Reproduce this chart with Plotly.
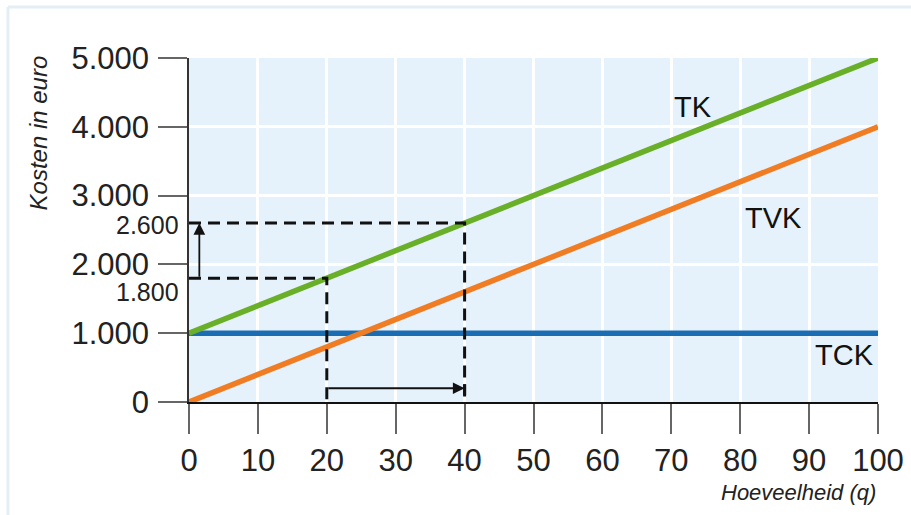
import plotly.graph_objects as go

# ---- data ----
q = [0, 100]
tck = [1000, 1000]
tvk = [0, 4000]
tk = [1000, 5000]
q_marks = [20, 40]
tk_marks = [1800, 2600]
x_ticks = list(range(0, 101, 10))
y_ticks = [0, 1000, 2000, 3000, 4000, 5000]
y_ticktext = ["0", "1.000", "2.000", "3.000", "4.000", "5.000"]
mark_labels = ["1.800", "2.600"]
line_names = ["TCK", "TVK", "TK"]

BLUE = "#1a6db3"
ORANGE = "#f07d24"
GREEN = "#69b028"
FONT = "Liberation Sans, Arial, sans-serif"

fig = go.Figure()
for ys, col in [(tck, BLUE), (tvk, ORANGE), (tk, GREEN)]:
    fig.add_trace(go.Scatter(x=q, y=ys, mode="lines", line=dict(color=col, width=5.5),
                             cliponaxis=False, hoverinfo="skip", showlegend=False))

# dashed guide lines derived from data
for qm, tm in zip(q_marks, tk_marks):
    fig.add_trace(go.Scatter(x=[0, qm, qm], y=[tm, tm, 0], mode="lines",
                             line=dict(color="#111", width=3, dash="12px,7px"),
                             hoverinfo="skip", showlegend=False, cliponaxis=False))

annotations = []
# small labels for 1.800 / 2.600
annotations.append(dict(x=0, y=tk_marks[1], xref="paper", yref="y", text=mark_labels[1],
                        showarrow=False, xanchor="right", yanchor="middle", xshift=-8, yshift=-2,
                        font=dict(family=FONT, size=25, color="#222")))
annotations.append(dict(x=0, y=tk_marks[0], xref="paper", yref="y", text=mark_labels[0],
                        showarrow=False, xanchor="right", yanchor="middle", xshift=-8, yshift=-14,
                        font=dict(family=FONT, size=25, color="#222")))
# vertical arrow
annotations.append(dict(x=1.5, y=tk_marks[1], ax=1.5, ay=tk_marks[0], xref="x", yref="y",
                        axref="x", ayref="y", showarrow=True, arrowhead=2, arrowsize=1.3,
                        arrowwidth=1.8, arrowcolor="#111", text=""))
# horizontal arrow
annotations.append(dict(x=q_marks[1], y=200, ax=q_marks[0], ay=200, xref="x", yref="y",
                        axref="x", ayref="y", showarrow=True, arrowhead=2, arrowsize=1.3,
                        arrowwidth=1.8, arrowcolor="#111", text=""))
# line labels
for name, xx, yy in zip(line_names, [95.2, 84.8, 73.2], [683, 2674, 4288]):
    annotations.append(dict(x=xx, y=yy, xref="x", yref="y", text=name, showarrow=False,
                            font=dict(family=FONT, size=29, color="#111")))
# axis titles
annotations.append(dict(x=1, y=-0.262, xref="paper", yref="paper", text="<i>Hoeveelheid (q)</i>",
                        showarrow=False, xanchor="right", yanchor="middle",
                        font=dict(family=FONT, size=22, color="#222")))
annotations.append(dict(x=-0.217, y=0.782, xref="paper", yref="paper",
                        text="<i>Kosten in euro</i>", textangle=-90,
                        showarrow=False, xanchor="center", yanchor="middle",
                        font=dict(family=FONT, size=24, color="#222")))

shapes = [
    # end bar of horizontal arrow
    dict(type="line", xref="x", yref="y", x0=q_marks[1], x1=q_marks[1], y0=100, y1=260,
         line=dict(color="#111", width=3)),
    # faint outer frame
    dict(type="line", xref="paper", yref="paper", x0=-0.2627, x1=-0.2627, y0=1.148, y1=-0.33,
         line=dict(color="#e4eef7", width=3)),
    dict(type="line", xref="paper", yref="paper", x0=-0.2627, x1=1.05, y0=1.148, y1=1.148,
         line=dict(color="#e4eef7", width=3)),
]

fig.update_layout(
    width=911, height=515,
    margin=dict(l=189, r=33, t=58, b=113, autoexpand=False),
    paper_bgcolor="white", plot_bgcolor="#e6f2fb",
    annotations=annotations, shapes=shapes,
    showlegend=False,
)
fig.update_xaxes(range=[0, 100], tickvals=x_ticks, ticks="outside", ticklen=30, tickwidth=1.5,
                 tickcolor="#666", showgrid=True, gridcolor="white", gridwidth=3,
                 showline=True, linecolor="#111", linewidth=2, zeroline=False, automargin=False,
                 tickfont=dict(family=FONT, size=31, color="#222"), fixedrange=True)
fig.update_yaxes(range=[0, 5000], tickvals=y_ticks, ticktext=y_ticktext, ticks="outside",
                 ticklen=29, tickwidth=1.5, tickcolor="#666", showgrid=True, gridcolor="white",
                 gridwidth=3, showline=True, linecolor="#333", linewidth=1.5, zeroline=False,
                 ticklabelstandoff=3, automargin=False,
                 tickfont=dict(family=FONT, size=31, color="#222"), fixedrange=True)

fig.write_html("out.html")
